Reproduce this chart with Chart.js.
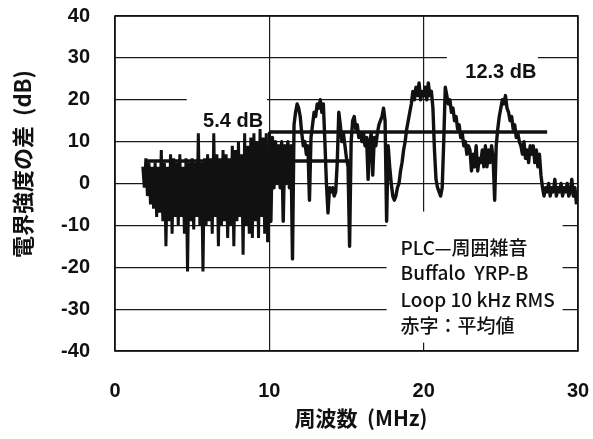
<!DOCTYPE html>
<html>
<head>
<meta charset="utf-8">
<script src="https://cdn.jsdelivr.net/npm/chart.js@4.4.1/dist/chart.umd.min.js"></script>
<style>
  html, body { margin: 0; padding: 0; background: #fff; }
  canvas { display: block; }
</style>
</head>
<body>
<canvas id="c" width="593" height="439"></canvas>
<script>
// Field-strength difference (PLC minus ambient noise), sampled every 0.1 MHz.
const startMHz = 1.8;
const stepMHz = 0.1;

// 1.8 – 9.9 MHz
const diffLowBand = [
  4, -1,
  6, -3, 5, -5, 4, -6, 5, -8, 4, -7,
  8, -9, 5, -15, 4, -9, 7, -12, 6, -8,
  5, -10, 7, -8, 4, -12, 6, -21, 5, -9,
  6, -11, 5, -8, 12, -10, 5, -21, 6, -10,
  7, -9, 6, -12, 12, -8, 7, -15, 6, -10,
  8, -9, 7, -13, 6, -10, 9, -15, 8, -9,
  10, -8, 7, -17, 12, -10, 9, -12, 11, -13,
  12, -9, 10, -13, 13, -8, 11, -12, 12, -14
];

// 10.0 – 19.9 MHz
const diffMidBand = [
  12, -9, 11, -1, 10, 0, 9, -1, 10, -9,
  9, 0, 10, -1, 9, -18, 14, 17, 19, 18,
  16, 12, 9, 10, 7, 9, -4, 11, 14, 17,
  16, 19, 18, 20, 17, 19, 10, 0, -7, -1,
  -2, -1, -3, -2, 5, 17, 14, 10, 12, 9,
  6, 4, -15, 10, 15, 16, 13, 14, 11, 12,
  10, 12, 9, 11, 1, 10, 12, 2, 11, 9,
  12, 14, 15, 16, 18, 15, -9, 9, 4, 0,
  -3, -4, -3, -1, 0, 3, 5, 8, 10, 13,
  15, 17, 19, 22, 20, 23, 21, 24, 20, 22
];

// 20.0 – 29.9 MHz
const diffHighBand = [
  21, 23, 20, 24, 21, 22, 18, 8, 1, -1,
  -2, -3, -1, 10, 23, 21, 19, 20, 17, 18,
  15, 16, 13, 14, 11, 12, 9, 10, 7, 9,
  8, 3, 7, 4, 9, 3, 6, 5, 8, 4,
  9, 4, 8, 5, 9, 6, -4, 9, 13, 16,
  18, 20, 19, 21, 18, 17, 15, 16, 13, 14,
  11, 12, 10, 9, 7, 10, 6, 8, 5, 9,
  7, 9, 5, 8, 4, 7, 2, -1, -3, -1,
  -2, 0, -3, -1, -2, 1, -3, -1, -2, 0,
  -3, -1, -2, 0, -3, -2, 1, -3, -1, -5
];

// Band averages (dB) and the frequency spans they cover (MHz)
const meanLow = 5.4;
const meanLowSpan = [2, 15.2];
const meanHigh = 12.3;
const meanHighSpan = [10, 28];

const xTicks = [0, 10, 20, 30];
const yTicks = [-40, -30, -20, -10, 0, 10, 20, 30, 40];

const noteLines = ['PLC—周囲雑音', 'Buffalo  YRP-B', 'Loop 10 kHz RMS', '赤字：平均値'];
const xTitle = '周波数  (MHz)';
const yTitle = '電界強度の差  (dB)';

const toPoints = (vals, offset) =>
  vals.map((v, i) => ({ x: +(startMHz + (offset + i) * stepMHz).toFixed(1), y: v }));
const lowPoints = toPoints(diffLowBand, 0);
// upper band starts from the last low-band sample so the trace stays continuous
const upperPoints = [lowPoints[lowPoints.length - 1]].concat(
  toPoints(diffMidBand.concat(diffHighBand), diffLowBand.length));
const meanLowPoints = meanLowSpan.map(f => ({ x: f, y: meanLow }));
const meanHighPoints = meanHighSpan.map(f => ({ x: f, y: meanHigh }));

const tickFont = { family: '"Liberation Sans", Arial, sans-serif', size: 20, weight: 'bold' };

const overlay = {
  id: 'overlay',
  beforeDatasetsDraw(chart) {
    const { ctx, scales: { x, y } } = chart;
    ctx.save();
    ctx.fillStyle = '#fff';
    const box = (f0, f1, d0, d1) => {
      const l = x.getPixelForValue(f0), r = x.getPixelForValue(f1);
      const t = y.getPixelForValue(d0), b = y.getPixelForValue(d1);
      ctx.fillRect(l, t, r - l, b - t);
    };
    box(4.65, 9.85, 21, 12.5);    // behind the low-band average label
    box(21.5, 27.4, 30.7, 24);    // behind the high-band average label
    box(17.6, 29.0, -6.7, -38);   // behind the measurement note
    ctx.restore();
  },
  afterDatasetsDraw(chart) {
    const { ctx, chartArea: a, scales: { x, y } } = chart;
    ctx.save();
    ctx.strokeStyle = '#111';
    ctx.lineWidth = 1.6;
    ctx.strokeRect(a.left, a.top, a.right - a.left, a.bottom - a.top);

    ctx.fillStyle = '#111';
    ctx.font = 'bold 20px "Liberation Sans", Arial, sans-serif';
    ctx.textAlign = 'center';
    ctx.textBaseline = 'middle';
    ctx.fillText(meanLow.toFixed(1) + ' dB', x.getPixelForValue(7.65), y.getPixelForValue(14.8));
    ctx.fillText(meanHigh.toFixed(1) + ' dB', x.getPixelForValue(25.0), y.getPixelForValue(26.6));

    ctx.font = '500 19px "Noto Sans CJK JP", "Noto Sans", sans-serif';
    ctx.textAlign = 'left';
    const left = x.getPixelForValue(18.5);
    const rows = [-15.3, -21.3, -27.8, -34.0];
    noteLines.forEach((t, i) => ctx.fillText(t, left, y.getPixelForValue(rows[i])));
    ctx.restore();
  },
  afterDraw(chart) {
    const { ctx } = chart;
    ctx.save();
    ctx.fillStyle = '#111';
    ctx.textAlign = 'center';
    ctx.textBaseline = 'middle';
    ctx.font = 'bold 21px "Noto Sans CJK JP", sans-serif';
    ctx.fillText(xTitle, 361, 418);
    ctx.font = 'bold 22px "Noto Sans CJK JP", sans-serif';
    ctx.translate(23, 164);
    ctx.rotate(-Math.PI / 2);
    ctx.fillText(yTitle, 0, 0);
    ctx.restore();
  }
};

new Chart(document.getElementById('c'), {
  type: 'line',
  data: {
    datasets: [
      { data: meanLowPoints, borderColor: '#111', borderWidth: 3.5, pointRadius: 0, order: 0 },
      { data: meanHighPoints, borderColor: '#111', borderWidth: 3.5, pointRadius: 0, order: 0 },
      { data: lowPoints, borderColor: '#111', borderWidth: 3, pointRadius: 0,
        borderJoinStyle: 'bevel', tension: 0, order: 1 },
      { data: upperPoints, borderColor: '#111', borderWidth: 3.4, pointRadius: 0,
        borderJoinStyle: 'round', tension: 0, order: 1 }
    ]
  },
  options: {
    responsive: false,
    animation: false,
    devicePixelRatio: 1,
    layout: { padding: { top: 16, right: 15, left: 0, bottom: 0 } },
    plugins: { legend: { display: false }, tooltip: { enabled: false } },
    scales: {
      x: {
        type: 'linear', min: 0, max: 30,
        afterBuildTicks: s => { s.ticks = xTicks.map(v => ({ value: v })); },
        afterFit: s => { s.height = 88; },
        grid: { color: '#1a1a1a', lineWidth: 1.2, drawTicks: true, tickLength: 28, tickColor: 'rgba(0,0,0,0)' },
        border: { display: false },
        ticks: { font: tickFont, color: '#111', padding: 0, maxRotation: 0 }
      },
      y: {
        type: 'linear', min: -40, max: 40,
        afterBuildTicks: s => { s.ticks = yTicks.map(v => ({ value: v })); },
        afterFit: s => { s.width = 115; },
        grid: { color: '#1a1a1a', lineWidth: 1.2, drawTicks: true, tickLength: 25, tickColor: 'rgba(0,0,0,0)' },
        border: { display: false },
        ticks: { font: tickFont, color: '#111', padding: 0 }
      }
    }
  },
  plugins: [overlay]
});
</script>
</body>
</html>
